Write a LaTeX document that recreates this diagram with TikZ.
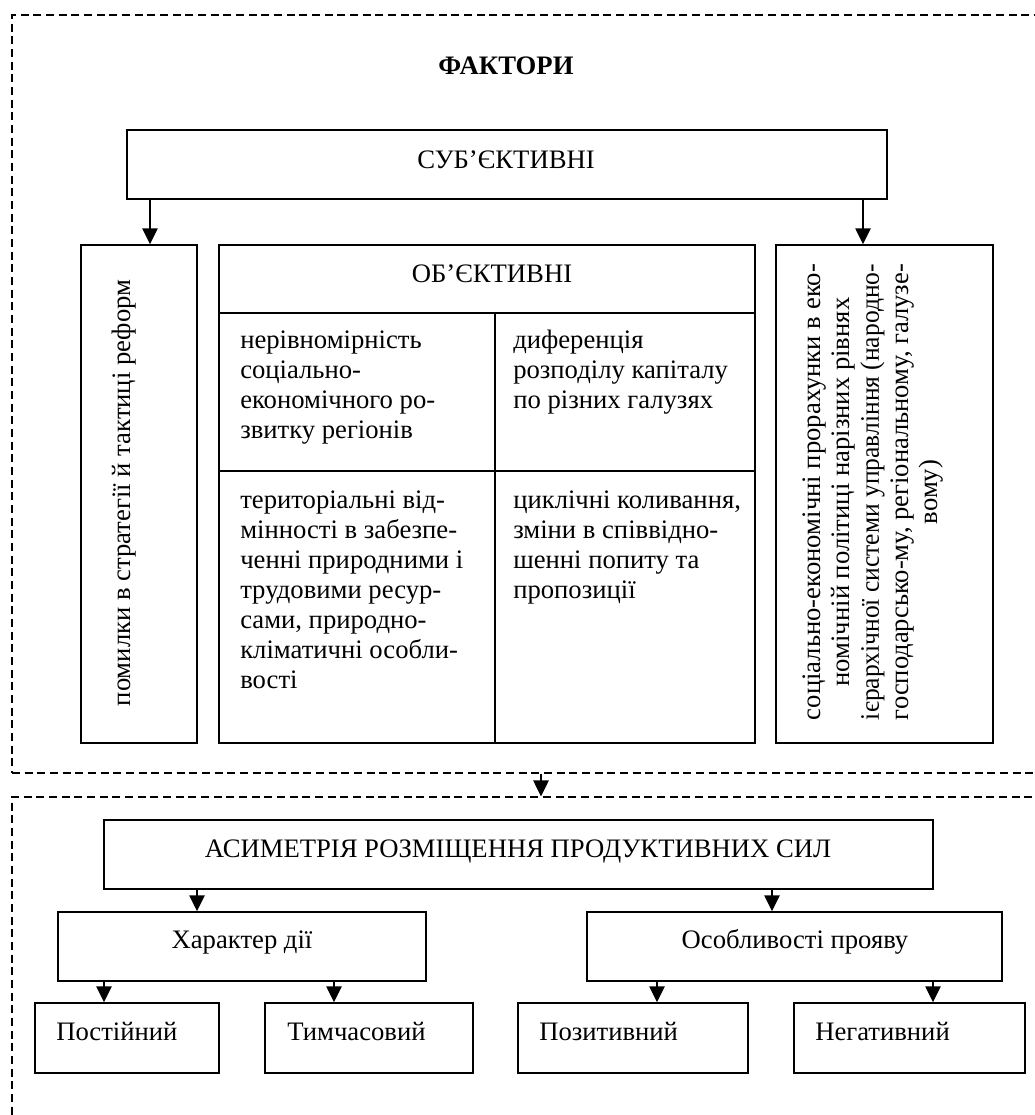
\documentclass[tikz,border=0pt]{standalone}
\usepackage{fontspec}
\usepackage{graphicx}
\setmainfont{Liberation Serif}
\usetikzlibrary{arrows.meta,fit}
\newcommand{\fsz}{\fontsize{20}{22.5}\selectfont}
\newcommand{\fszr}{\fontsize{20}{22}\selectfont}
\newcommand{\fitline}[1]{\resizebox{342pt}{\height}{#1}}
\begin{document}
\begin{tikzpicture}[x=0.75pt,y=-0.75pt,
  boxst/.style={draw, line width=1.1pt, inner sep=0pt},
  dashframe/.style={draw, line width=0.8pt, dash pattern=on 6pt off 3.5pt, inner sep=0pt},
  arr/.style={line width=1.1pt, -{Triangle[length=12pt,width=11.5pt]}},
  lbl/.style={inner sep=0pt, font=\fsz},
]
\useasboundingbox (0,0) rectangle (1035,1115);
\clip (0,0) rectangle (1035,1115);

% frames
\node[dashframe, fit={(12,15) (1060,773)}] (ftop) {};
\node[dashframe, fit={(12,797) (1060,1140)}] (fbot) {};

% top part
\node[lbl, font=\fsz\bfseries, anchor=base] (title) at (506,74) {ФАКТОРИ};
\node[boxst, fit={(127,130) (887,199)}] (subj) {};
\node[lbl, anchor=base] (subjt) at (506,168) {СУБ’ЄКТИВНІ};

\node[boxst, fit={(81,245) (197,743)}] (pom) {};
\node[lbl, rotate=90, anchor=base] (pomt) at (130,493) {помилки в стратегії й тактиці реформ};

\node[boxst, fit={(219,245) (755,313)}] (objh) {};
\node[lbl, anchor=base] (objt) at (492,282) {ОБ’ЄКТИВНІ};
\node[boxst, fit={(219,313) (495,471)}] (c1) {};
\node[boxst, fit={(495,313) (755,471)}] (c2) {};
\node[boxst, fit={(219,471) (495,743)}] (c3) {};
\node[boxst, fit={(495,471) (755,743)}] (c4) {};

\node[lbl, align=left, anchor=north west] (c1t) at (240,327) {\strut нерівномірність\\соціально-\\економічного ро-\\звитку регіонів};
\node[lbl, align=left, anchor=north west] (c2t) at (513,327) {\strut диференція\\розподілу капіталу\\по різних галузях};
\node[lbl, align=left, anchor=north west] (c3t) at (240,487) {\strut територіальні від-\\мінності в забезпе-\\ченні природними і\\трудовими ресур-\\сами, природно-\\кліматичні особли-\\вості};
\node[lbl, align=left, anchor=north west] (c4t) at (513,487) {\strut циклічні коливання,\\зміни в співвідно-\\шенні попиту та\\пропозиції};

\node[boxst, fit={(776,245) (993,743)}] (pror) {};
\node[lbl, font=\fszr, rotate=90, align=center] (prort) at (873,492) {\strut\makebox[342pt][s]{соціально-економічні прорахунки в еко-}\\номічній політиці нарізних рівнях\\\fitline{ієрархічної системи управління (народно-}\\\fitline{господарсько-му, регіональному, галузе-}\\вому)\strut};

\coordinate (xa1) at (150,0);
\coordinate (xa2) at (863,0);
\draw[arr] (subj.south -| xa1) -- (pom.north -| xa1);
\draw[arr] (subj.south -| xa2) -- (pror.north -| xa2);

% link between frames
\coordinate (xm) at (541,0);
\draw[arr] (ftop.south -| xm) -- (fbot.north -| xm);

% bottom part
\node[boxst, fit={(104,820) (933,889)}] (asym) {};
\node[lbl, anchor=base] (asymt) at (518,857) {АСИМЕТРІЯ РОЗМІЩЕННЯ ПРОДУКТИВНИХ СИЛ};
\node[boxst, fit={(58,912) (426,981)}] (chr) {};
\node[lbl, anchor=base] (chrt) at (242,948) {Характер дії};
\node[boxst, fit={(587,912) (1002,981)}] (osob) {};
\node[lbl, anchor=base] (osobt) at (795,948) {Особливості прояву};

\node[boxst, fit={(35,1003) (219,1073)}] (post) {};
\node[lbl, anchor=base west] (postt) at (56,1040) {Постійний};
\node[boxst, fit={(265,1003) (473,1073)}] (tym) {};
\node[lbl, anchor=base west] (tymt) at (287,1040) {Тимчасовий};
\node[boxst, fit={(518,1003) (748,1073)}] (poz) {};
\node[lbl, anchor=base west] (pozt) at (539,1040) {Позитивний};
\node[boxst, fit={(794,1003) (1025,1073)}] (neg) {};
\node[lbl, anchor=base west] (negt) at (815,1040) {Негативний};

\coordinate (xb1) at (197,0);
\coordinate (xb2) at (772,0);
\coordinate (xc1) at (104,0);
\coordinate (xc2) at (334,0);
\coordinate (xc3) at (657,0);
\coordinate (xc4) at (933,0);
\draw[arr] (asym.south -| xb1) -- (chr.north -| xb1);
\draw[arr] (asym.south -| xb2) -- (osob.north -| xb2);
\draw[arr] (chr.south -| xc1) -- (post.north -| xc1);
\draw[arr] (chr.south -| xc2) -- (tym.north -| xc2);
\draw[arr] (osob.south -| xc3) -- (poz.north -| xc3);
\draw[arr] (osob.south -| xc4) -- (neg.north -| xc4);
\end{tikzpicture}
\end{document}
